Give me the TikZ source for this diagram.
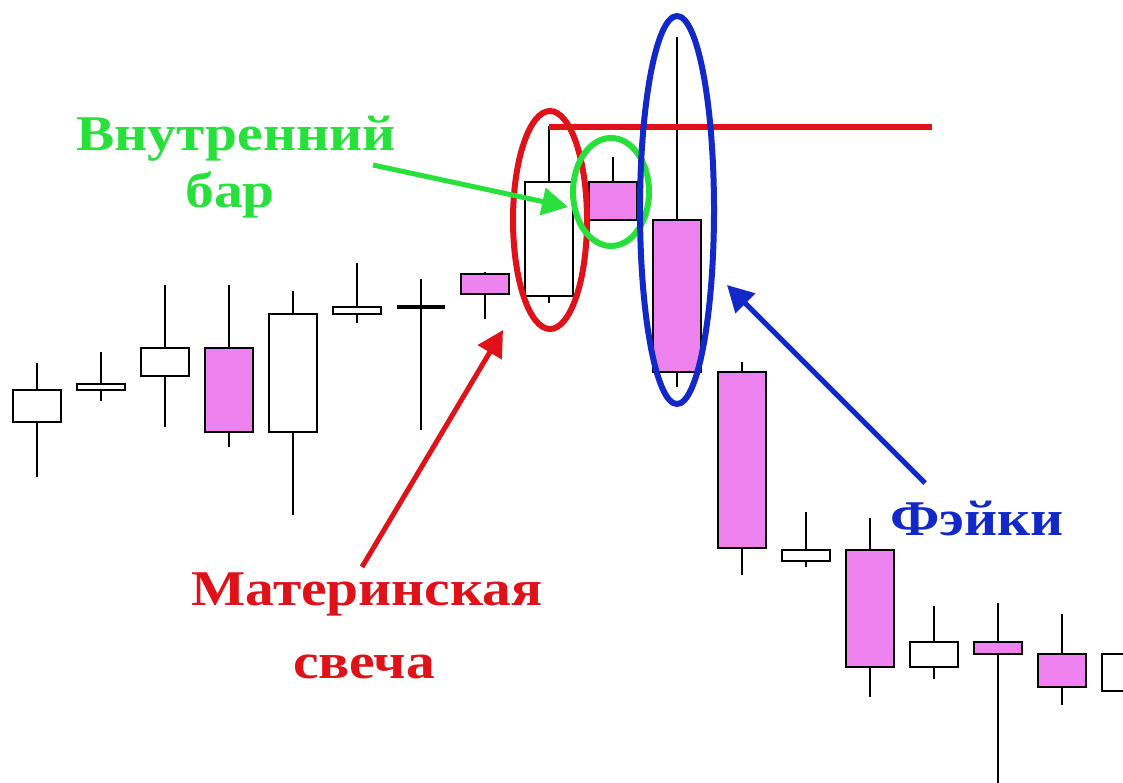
\documentclass[tikz,border=0pt]{standalone}
\usepackage{fontspec}
\setmainfont{Liberation Serif}[FakeStretch=1.15]
\usetikzlibrary{arrows.meta,shapes.geometric}
\definecolor{candlepink}{RGB}{238,130,238}
\definecolor{innergreen}{RGB}{40,224,60}
\definecolor{motherred}{RGB}{222,18,24}
\definecolor{fakeblue}{RGB}{18,40,200}
\begin{document}
\begin{tikzpicture}[x=1pt,y=-1pt,
    wick/.style ={line width=2.2pt},
    upbody/.style ={draw, line width=2.2pt, fill=white},
    downbody/.style ={draw, line width=2.2pt, fill=candlepink},
    ring/.style ={ellipse, draw, line width=6pt, inner sep=0pt},
    pointer/.style ={line width=5pt, -{Triangle[length=26pt,width=27pt]}},
    labeltext/.style ={font=\bfseries\fontsize{50}{54}\selectfont, inner sep=0pt, anchor=base}]
   \useasboundingbox (0,0) rectangle (1123,782);
   \clip (0,0) rectangle (1123,782);
   \draw[wick] (37,363) -- (37,477);
   \draw[upbody] (13,390) rectangle (61,422);
   \draw[wick] (101,352) -- (101,401);
   \draw[upbody] (77,384) rectangle (125,390);
   \draw[wick] (165,285) -- (165,427);
   \draw[upbody] (141,348) rectangle (189,376);
   \draw[wick] (229,285) -- (229,447);
   \draw[downbody] (205,348) rectangle (253,432);
   \draw[wick] (293,291) -- (293,515);
   \draw[upbody] (269,314) rectangle (317,432);
   \draw[wick] (357,263) -- (357,323);
   \draw[upbody] (333,307) rectangle (381,314);
   \draw[wick] (421,279) -- (421,430);
   \draw[line width=3.5pt] (397,307) -- (445,307);
   \draw[wick] (485,272) -- (485,319);
   \draw[downbody] (461,274) rectangle (509,294);
   \draw[wick] (549,126) -- (549,303);
   \draw[upbody] (525,182) rectangle (573,296);
   \draw[wick] (613,157) -- (613,182);
   \draw[downbody] (589,182) rectangle (637,220);
   \draw[wick] (677,37) -- (677,387);
   \draw[downbody] (653,220) rectangle (701,372);
   \draw[wick] (742,362) -- (742,575);
   \draw[downbody] (718,372) rectangle (766,548);
   \draw[wick] (806,512) -- (806,567);
   \draw[upbody] (782,550) rectangle (830,561);
   \draw[wick] (870,518) -- (870,697);
   \draw[downbody] (846,550) rectangle (894,667);
   \draw[wick] (934,606) -- (934,679);
   \draw[upbody] (910,642) rectangle (958,667);
   \draw[wick] (998,603) -- (998,790);
   \draw[downbody] (974,642) rectangle (1022,654);
   \draw[wick] (1062,614) -- (1062,705);
   \draw[downbody] (1038,654) rectangle (1086,687);
   \draw[upbody] (1102,654) rectangle (1150,691);

   \coordinate (motherhigh) at (549,127);
   \coordinate (levelend) at (932,127);
   \draw[line width=6pt, motherred] (motherhigh) -- (levelend);
   \node[ring, draw=motherred, minimum width=74pt, minimum height=218pt] (motherring) at (550,220) {};
   \node[ring, draw=innergreen, minimum width=76pt, minimum height=108pt] (innerring) at (611,192) {};
   \node[ring, draw=fakeblue, minimum width=74pt, minimum height=388pt] (fakering) at (677,210) {};

   \node[labeltext, text=innergreen] (innerA) at (236,150) {Внутренний};
   \node[labeltext, text=innergreen] (innerB) at (230,207) {бар};
   \node[labeltext, text=motherred] (motherA) at (367,605) {Материнская};
   \node[labeltext, text=motherred] (motherB) at (364,678) {свеча};
   \node[labeltext, text=fakeblue] (fakes) at (977,535) {Фэйки};

   \coordinate (innertail) at (373,165);
   \coordinate (innertip) at (568,207);
   \coordinate (mothertail) at (362,567);
   \coordinate (mothertip) at (503,330);
   \coordinate (faketail) at (925,483);
   \coordinate (faketip) at (727,285);
   \draw[pointer, innergreen] (innertail) -- (innertip);
   \draw[pointer, motherred] (mothertail) -- (mothertip);
   \draw[pointer, fakeblue] (faketail) -- (faketip);
 \end{tikzpicture}
\end{document}
